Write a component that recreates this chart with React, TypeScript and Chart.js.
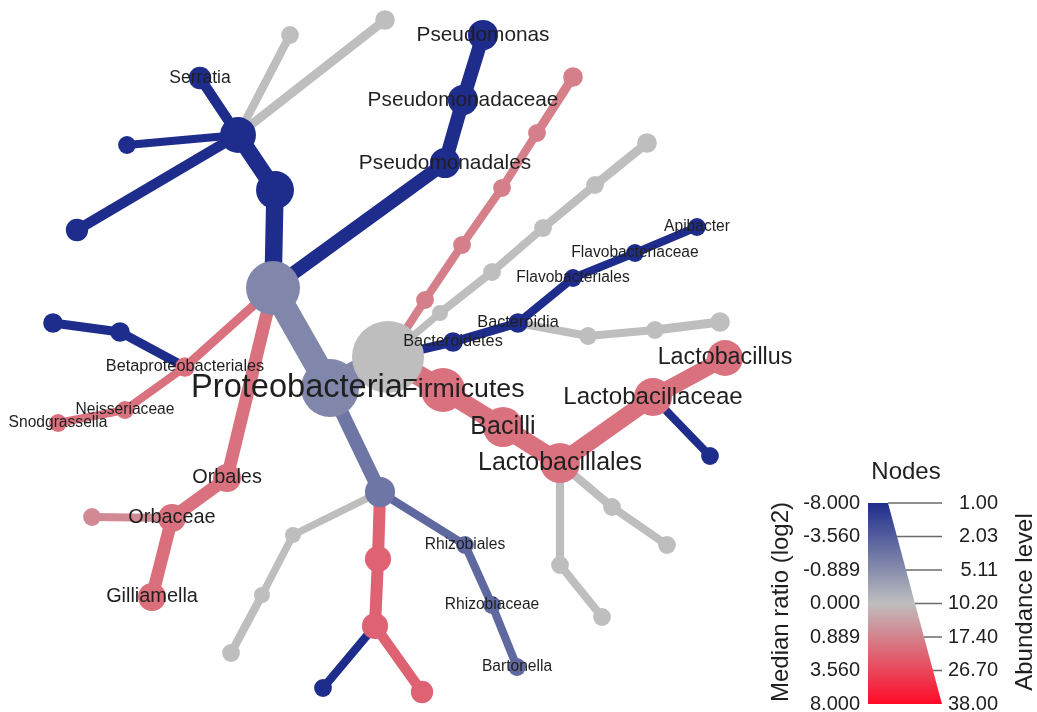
import { useEffect, useRef } from "react";
import { Chart, registerables } from "chart.js";

Chart.register(...registerables);

// Heat tree of taxa: one entry per node (layout position, parent, abundance, median log2 ratio)
const taxonLabels = [
  "", "Proteobacteria", "", "", "", "Serratia", "", "", "", "",
  "Pseudomonadales", "Pseudomonadaceae", "Pseudomonas", "Betaproteobacteriales", "", "", "Neisseriaceae", "Snodgrassella", "Orbales", "Orbaceae",
  "Gilliamella", "", "", "Rhizobiales", "Rhizobiaceae", "Bartonella", "", "", "", "",
  "", "", "", "Bacteroidetes", "Bacteroidia", "Flavobacteriales", "Flavobacteriaceae", "Apibacter", "", "",
  "", "Firmicutes", "Bacilli", "Lactobacillales", "Lactobacillaceae", "Lactobacillus", "", "", "", "",
  "", "", "", "", "", "", "", "", "", "",
  "",
];
const layoutX = [
  388, 330, 273, 275, 238, 200, 127, 77, 290, 385,
  445, 463, 483, 185, 120, 53, 125, 58, 227, 172,
  152, 92, 380, 465, 492, 517, 378, 375, 422, 323,
  293, 262, 231, 453, 518, 573, 635, 697, 588, 655,
  720, 443, 503, 560, 653, 725, 710, 560, 602, 612,
  667, 425, 462, 502, 537, 573, 440, 492, 543, 595,
  647,
];
const layoutY = [
  357, 388, 288, 190, 135, 78, 145, 230, 35, 20,
  163, 100, 35, 367, 332, 323, 410, 423, 478, 518,
  597, 517, 492, 545, 605, 667, 559, 626, 692, 688,
  535, 595, 653, 342, 323, 278, 253, 227, 336, 330,
  322, 390, 427, 463, 397, 358, 456, 565, 617, 507,
  545, 300, 245, 188, 133, 77, 313, 272, 228, 185,
  143,
];
const parentIndex = [
  -1, 0, 1, 2, 3, 4, 4, 4, 4, 4,
  2, 10, 11, 2, 13, 14, 13, 16, 2, 18,
  19, 19, 1, 22, 23, 24, 22, 26, 27, 27,
  22, 30, 31, 0, 33, 34, 35, 36, 34, 38,
  39, 0, 41, 42, 43, 44, 44, 43, 47, 43,
  49, 0, 51, 52, 53, 54, 0, 56, 57, 58,
  59,
];
const abundanceLevel = [
  38, 22, 18, 6.9, 5.8, 1.7, 1.2, 1.7, 1.2, 1.4,
  3.6, 3.6, 3.6, 1.4, 1.4, 1.4, 1.2, 1.2, 2.9, 2.9,
  2.9, 1.2, 3.6, 1.2, 1.2, 1.2, 2.3, 2.3, 1.7, 1.2,
  1.0, 1.0, 1.2, 1.4, 1.4, 1.2, 1.2, 1.2, 1.2, 1.2,
  1.4, 10.2, 8.0, 8.0, 6.9, 5.8, 1.2, 1.2, 1.2, 1.2,
  1.2, 1.2, 1.2, 1.2, 1.2, 1.4, 1.0, 1.2, 1.2, 1.2,
  1.4,
];
const medianRatio = [
  0, -1.26, -1.26, -8, -8, -8, -8, -8, 0, 0,
  -8, -8, -8, 1.66, -8, -8, 1.66, 1.66, 1.66, 1.66,
  1.8, 0.77, -2.2, -2.95, -2.95, -2.95, 2.3, 2.3, 2.3, -8,
  0, 0, 0, -8, -8, -8, -8, -8, 0, 0,
  0, 1.66, 1.66, 1.66, 1.66, 1.66, -8, 0, 0, 0,
  0, 1.02, 1.02, 1.02, 1.02, 1.02, 0, 0, 0, 0,
  0,
];
// Horizontal nudges for labels that sit beside their node
const labelNudgeX: Record<string, number> = { Proteobacteria: -33, Firmicutes: 20 };

// Legend scales
const ratioTicks = [-8, -3.56, -0.889, 0, 0.889, 3.56, 8];
const abundanceTicks = [1, 2.03, 5.11, 10.2, 17.4, 26.7, 38];

const BLUE = [30, 45, 140];
const GRAY = [190, 190, 190];
const RED = [255, 10, 40];
const FONT = '"Liberation Sans", Arial, Helvetica, sans-serif';
const TEXT = "#1f1f1f";

function tickPosition(v: number, ticks: number[]): number {
  if (v <= ticks[0]) return 0;
  const n = ticks.length - 1;
  for (let i = 0; i < n; i++) {
    if (v <= ticks[i + 1]) {
      return (i + (v - ticks[i]) / (ticks[i + 1] - ticks[i])) / n;
    }
  }
  return 1;
}

function mix(a: number[], b: number[], f: number): string {
  const c = a.map((v, i) => Math.round(v + (b[i] - v) * f));
  return `rgb(${c[0]},${c[1]},${c[2]})`;
}

function ratioColor(v: number): string {
  const t = tickPosition(v, ratioTicks);
  return t <= 0.5 ? mix(BLUE, GRAY, t / 0.5) : mix(GRAY, RED, (t - 0.5) / 0.5);
}

function nodeRadius(a: number): number {
  return 8 + 28 * tickPosition(a, abundanceTicks);
}

const legendPlugin = {
  id: "heatTreeOverlay",
  afterDatasetsDraw(chart: any) {
    const ctx: CanvasRenderingContext2D = chart.ctx;
    const xs = chart.scales.x;
    const ys = chart.scales.y;
    ctx.save();
    ctx.fillStyle = TEXT;
    ctx.textAlign = "center";
    ctx.textBaseline = "middle";
    taxonLabels.forEach((name, i) => {
      if (!name) return;
      const r = nodeRadius(abundanceLevel[i]);
      const fs = 8 + 0.85 * r;
      ctx.font = `${fs.toFixed(1)}px ${FONT}`;
      const px = xs.getPixelForValue(layoutX[i]) + (labelNudgeX[name] || 0);
      const py = ys.getPixelForValue(layoutY[i]);
      ctx.fillText(name, px, py);
    });
    ctx.restore();
  },
  afterDraw(chart: any) {
    const ctx: CanvasRenderingContext2D = chart.ctx;
    const top = 503;
    const bottom = 704;
    const left = 868;
    const topRight = 888;
    const right = 942;
    ctx.save();
    // title
    ctx.fillStyle = TEXT;
    ctx.font = `24px ${FONT}`;
    ctx.textAlign = "center";
    ctx.textBaseline = "middle";
    ctx.fillText("Nodes", 906, 472);

    // colour/size wedge
    const grad = ctx.createLinearGradient(0, top, 0, bottom);
    grad.addColorStop(0, mix(BLUE, BLUE, 0));
    grad.addColorStop(0.5, mix(GRAY, GRAY, 0));
    grad.addColorStop(1, mix(RED, RED, 0));
    ctx.beginPath();
    ctx.moveTo(left, top);
    ctx.lineTo(topRight, top);
    ctx.lineTo(right, bottom);
    ctx.lineTo(left, bottom);
    ctx.closePath();
    ctx.fillStyle = grad;
    ctx.fill();

    const n = ratioTicks.length - 1;
    ctx.strokeStyle = "#6a6a6a";
    ctx.lineWidth = 1.5;
    ctx.font = `20px ${FONT}`;
    ctx.textBaseline = "middle";
    for (let i = 0; i <= n; i++) {
      const f = i / n;
      const y = top + (bottom - top) * f;
      const xEdge = topRight + (right - topRight) * f;
      if (i < n) {
        ctx.beginPath();
        ctx.moveTo(xEdge, y);
        ctx.lineTo(right, y);
        ctx.stroke();
      }
      ctx.fillStyle = TEXT;
      ctx.textAlign = "right";
      ctx.fillText(ratioTicks[i].toFixed(3), 860, y);
      ctx.fillText(abundanceTicks[i].toFixed(2), 998, y);
    }

    // axis titles
    ctx.font = `24px ${FONT}`;
    ctx.textAlign = "center";
    ctx.translate(781, 602);
    ctx.rotate(-Math.PI / 2);
    ctx.fillText("Median ratio (log2)", 0, 0);
    ctx.rotate(Math.PI / 2);
    ctx.translate(1025 - 781, 0);
    ctx.rotate(-Math.PI / 2);
    ctx.fillText("Abundance level", 0, 0);
    ctx.restore();
  },
};

export default function App() {
  const canvasRef = useRef<HTMLCanvasElement | null>(null);

  useEffect(() => {
    const canvas = canvasRef.current;
    if (!canvas) return;

    const edgeSets: any[] = [];
    parentIndex.forEach((p, i) => {
      if (p < 0) return;
      const r = nodeRadius(abundanceLevel[i]);
      edgeSets.push({
        data: [
          { x: layoutX[p], y: layoutY[p] },
          { x: layoutX[i], y: layoutY[i] },
        ],
        showLine: true,
        borderColor: ratioColor(medianRatio[i]),
        borderWidth: r * 0.92,
        borderCapStyle: "round",
        pointRadius: 0,
        pointHoverRadius: 0,
        clip: false,
        order: 2,
      });
    });

    // nodes: smaller first so the large ones sit on top
    const nodeOrder = layoutX.map((_, i) => i).sort(
      (a, b) => abundanceLevel[a] - abundanceLevel[b]
    );
    const nodeSet = {
      data: nodeOrder.map((i) => ({ x: layoutX[i], y: layoutY[i] })),
      backgroundColor: nodeOrder.map((i) => ratioColor(medianRatio[i])),
      pointRadius: nodeOrder.map((i) => nodeRadius(abundanceLevel[i])),
      pointHoverRadius: nodeOrder.map((i) => nodeRadius(abundanceLevel[i])),
      pointBorderWidth: 0,
      borderWidth: 0,
      showLine: false,
      clip: false,
      order: 1,
    };

    const chart = new Chart(canvas, {
      type: "scatter",
      data: { datasets: [nodeSet, ...edgeSets] },
      options: {
        animation: false,
        responsive: true,
        maintainAspectRatio: false,
        devicePixelRatio: 1,
        layout: { padding: 0, autoPadding: false },
        events: [],
        plugins: { legend: { display: false }, tooltip: { enabled: false } },
        scales: {
          x: { type: "linear", min: 0, max: 1037, display: false },
          y: { type: "linear", min: 0, max: 712, reverse: true, display: false },
        },
      },
      plugins: [legendPlugin],
    });
    return () => chart.destroy();
  }, []);

  return (
    <div style={{ position: "fixed", left: 0, top: 0, width: 1037, height: 712, background: "#fff" }}>
      <canvas ref={canvasRef} />
    </div>
  );
}
